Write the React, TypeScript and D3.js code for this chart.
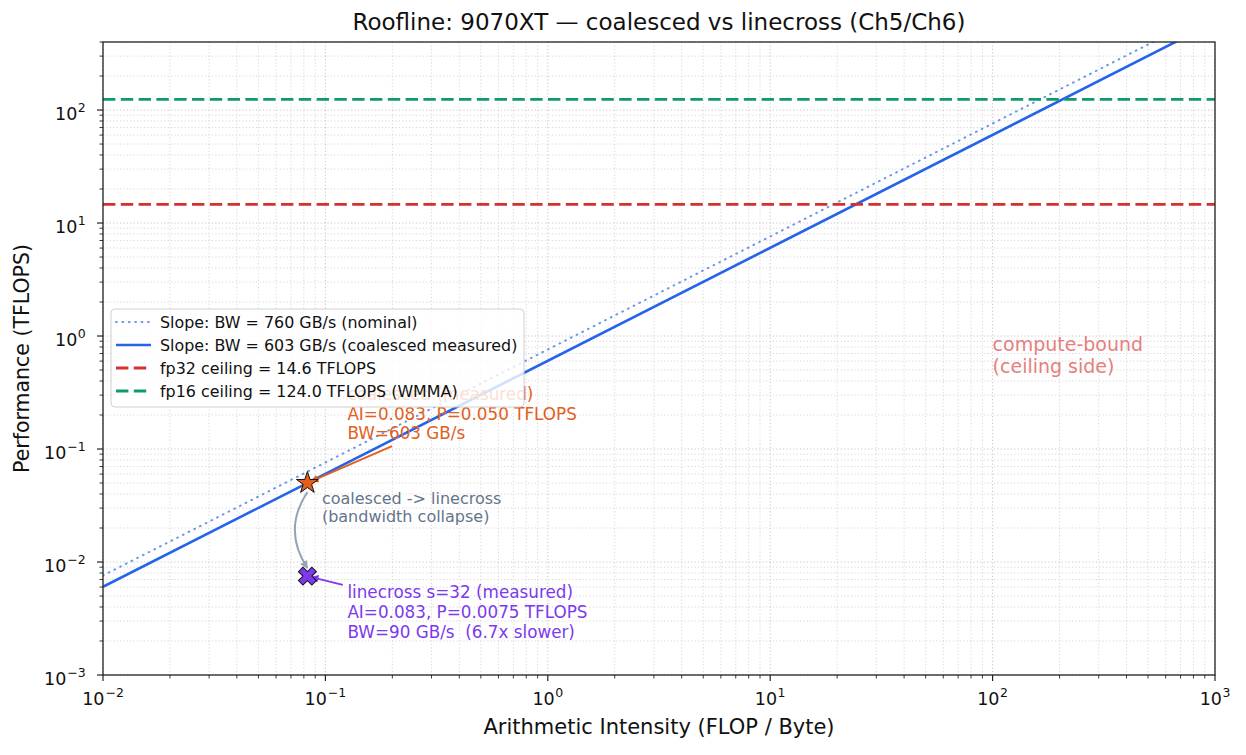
import { useEffect, useRef } from 'react'
import * as d3 from 'd3'

const W = 1246
const H = 755
const margin = { top: 42, right: 31, bottom: 80, left: 103 }

// axes
const aiDomain = [1e-2, 1e3]
const perfDomain = [1e-3, 400]
const xTickValues = [1e-2, 1e-1, 1e0, 1e1, 1e2, 1e3]
const yTickValues = [1e-3, 1e-2, 1e-1, 1e0, 1e1, 1e2]

// bandwidth roofs (GB/s)
const slopeLabels = ['Slope: BW = 760 GB/s (nominal)', 'Slope: BW = 603 GB/s (coalesced measured)']
const slopeBandwidth = [760, 603]

// compute ceilings (TFLOPS)
const ceilingLabels = ['fp32 ceiling = 14.6 TFLOPS', 'fp16 ceiling = 124.0 TFLOPS (WMMA)']
const ceilingTflops = [14.6, 124.0]

// measured kernels
const kernelAI = [0.083, 0.083]
const kernelPerf = [0.05, 0.0075]
const kernelText = [
  ['coalesced (measured)', 'AI=0.083, P=0.050 TFLOPS', 'BW=603 GB/s'],
  ['linecross s=32 (measured)', 'AI=0.083, P=0.0075 TFLOPS', 'BW=90 GB/s  (6.7x slower)'],
]
const transitionText = ['coalesced -> linecross', '(bandwidth collapse)']
const regionText = ['compute-bound', '(ceiling side)']

const BLUE = '#2563eb'
const BLUE_LIGHT = '#6b97e8'
const RED = '#d62f2f'
const GREEN = '#0f9a6c'
const ORANGE = '#e2601c'
const PURPLE = '#7c3aed'
const SLATE = '#64748b'
const FONT = 'DejaVu Sans, sans-serif'

export default function App() {
  const svgRef = useRef<SVGSVGElement>(null)

  useEffect(() => {
    const svg = d3.select(svgRef.current)
    svg.selectAll('*').remove()

    const innerW = W - margin.left - margin.right
    const innerH = H - margin.top - margin.bottom

    const x = d3.scaleLog().domain(aiDomain).range([0, innerW])
    const y = d3.scaleLog().domain(perfDomain).range([innerH, 0])

    svg.append('rect').attr('width', W).attr('height', H).attr('fill', '#fff')

    const defs = svg.append('defs')
    defs.append('clipPath').attr('id', 'plot-clip')
      .append('rect').attr('width', innerW).attr('height', innerH)

    const arrowHead = (id: string, color: string) => {
      defs.append('marker')
        .attr('id', id)
        .attr('viewBox', '0 0 10 10')
        .attr('refX', 9).attr('refY', 5)
        .attr('markerWidth', 8).attr('markerHeight', 8)
        .attr('markerUnits', 'userSpaceOnUse')
        .attr('orient', 'auto')
        .append('path')
        .attr('d', 'M0,0 L10,5 L0,10 z')
        .attr('fill', color)
    }
    arrowHead('head-orange', ORANGE)
    arrowHead('head-purple', PURPLE)
    arrowHead('head-gray', '#94a3b8')

    const g = svg.append('g').attr('transform', `translate(${margin.left},${margin.top})`)

    // grid, major + minor, dotted
    const minorX: number[] = []
    for (let e = -2; e < 3; e++) for (let k = 1; k < 10; k++) minorX.push(k * 10 ** e)
    minorX.push(1e3)
    const minorY: number[] = []
    for (let e = -3; e < 3; e++) for (let k = 1; k < 10; k++) if (k * 10 ** e <= perfDomain[1]) minorY.push(k * 10 ** e)

    const grid = g.append('g').attr('stroke', '#c4c4c4').attr('stroke-width', 1).attr('stroke-dasharray', '1.2,2.2')
    minorX.forEach(v => {
      grid.append('line').attr('x1', x(v)).attr('x2', x(v)).attr('y1', 0).attr('y2', innerH)
        .attr('opacity', xTickValues.includes(v) ? 0.95 : 0.65)
    })
    minorY.forEach(v => {
      grid.append('line').attr('x1', 0).attr('x2', innerW).attr('y1', y(v)).attr('y2', y(v))
        .attr('opacity', yTickValues.includes(v) ? 0.95 : 0.65)
    })

    const plot = g.append('g').attr('clip-path', 'url(#plot-clip)')

    // bandwidth slopes: P = AI * BW
    slopeBandwidth.forEach((bw, i) => {
      const line = d3.line<number>().x(d => x(d)).y(d => y(d * bw / 1000))
      plot.append('path')
        .attr('d', line(aiDomain))
        .attr('fill', 'none')
        .attr('stroke', i === 0 ? BLUE_LIGHT : BLUE)
        .attr('stroke-width', i === 0 ? 2 : 2.6)
        .attr('stroke-linecap', i === 0 ? 'round' : 'butt')
        .attr('stroke-dasharray', i === 0 ? '0.8,5.6' : null)
    })

    // flat ceilings
    ceilingTflops.forEach((tf, i) => {
      plot.append('line')
        .attr('x1', 0).attr('x2', innerW)
        .attr('y1', y(tf)).attr('y2', y(tf))
        .attr('stroke', i === 0 ? RED : GREEN)
        .attr('stroke-width', 2.8)
        .attr('stroke-dasharray', '12.4,5.4')
    })

    const px = kernelAI.map(d => x(d))
    const py = kernelPerf.map(d => y(d))

    // region label
    const region = g.append('text')
      .attr('font-family', FONT).attr('font-size', 19).attr('fill', '#e67e7e')
    regionText.forEach((t, i) => {
      region.append('tspan').attr('x', x(100)).attr('y', y(0.5) + 3 - (regionText.length - 1 - i) * 22.5).text(t)
    })

    // text blocks
    const block = (tx: number, ty: number, lines: string[], color: string, size: number, lh: number) => {
      const t = g.append('text').attr('font-family', FONT).attr('font-size', size).attr('fill', color)
        .style('white-space', 'pre')
      lines.forEach((s, i) => {
        t.append('tspan').attr('x', tx).attr('y', ty + i * lh).text(s)
      })
      return t
    }

    // arrow from the text box edge to a point
    const pointer = (box: { x0: number, y0: number, x1: number, y1: number }, tx: number, ty: number, color: string, head: string) => {
      const cx = (box.x0 + box.x1) / 2
      const cy = (box.y0 + box.y1) / 2
      const dx = tx - cx
      const dy = ty - cy
      let t = 1
      if (dx !== 0) t = Math.min(t, Math.abs(((dx < 0 ? box.x0 : box.x1) - cx) / dx))
      if (dy !== 0) t = Math.min(t, Math.abs(((dy < 0 ? box.y0 : box.y1) - cy) / dy))
      const sx = cx + dx * (t + 0.03)
      const sy = cy + dy * (t + 0.03)
      const len = Math.hypot(tx - sx, ty - sy)
      const ex = tx - (tx - sx) / len * 4
      const ey = ty - (ty - sy) / len * 4
      g.append('line')
        .attr('x1', sx).attr('y1', sy).attr('x2', ex).attr('y2', ey)
        .attr('stroke', color).attr('stroke-width', 1.8)
        .attr('marker-end', `url(#${head})`)
    }

    // coalesced annotation
    const oX = px[0] + 40
    const oY = py[0] - 83
    block(oX, oY, kernelText[0], ORANGE, 16.8, 19.5)
    pointer({ x0: oX, y0: oY - 13, x1: oX + 229, y1: oY + 44 }, px[0], py[0], ORANGE, 'head-orange')

    // linecross annotation
    const lX = px[1] + 40
    const lY = py[1] + 22
    block(lX, lY, kernelText[1], PURPLE, 16.8, 20)
    pointer({ x0: lX, y0: lY - 13, x1: lX + 229, y1: lY + 45 }, px[1], py[1], PURPLE, 'head-purple')

    // curved transition arrow
    const sx = px[0], sy = py[0] + 9
    const ex = px[1], ey = py[1] - 8
    const mx = (sx + ex) / 2 - 0.33 * (ey - sy)
    const my = (sy + ey) / 2
    g.append('path')
      .attr('d', `M${sx},${sy} Q${mx},${my} ${ex},${ey}`)
      .attr('fill', 'none').attr('stroke', '#94a3b8').attr('stroke-width', 2)
      .attr('marker-end', 'url(#head-gray)')
    block(px[0] + 14.5, py[0] + 21, transitionText, SLATE, 16, 18)

    // markers
    const star = d3.symbol().type(d3.symbolStar).size(150)
    g.append('path')
      .attr('transform', `translate(${px[0]},${py[0]})`)
      .attr('d', star())
      .attr('fill', ORANGE).attr('stroke', '#111').attr('stroke-width', 1)
    const cross = d3.symbol().type(d3.symbolCross).size(200)
    g.append('path')
      .attr('transform', `translate(${px[1]},${py[1]}) rotate(45)`)
      .attr('d', cross())
      .attr('fill', PURPLE).attr('stroke', '#111').attr('stroke-width', 1)

    // frame
    g.append('rect').attr('width', innerW).attr('height', innerH)
      .attr('fill', 'none').attr('stroke', '#222').attr('stroke-width', 1.3)

    // ticks
    const axisX = g.append('g').attr('transform', `translate(0,${innerH})`)
    minorX.forEach(v => {
      const major = xTickValues.includes(v)
      axisX.append('line').attr('x1', x(v)).attr('x2', x(v)).attr('y1', 0).attr('y2', major ? 6 : 3.5)
        .attr('stroke', '#222').attr('stroke-width', major ? 1.2 : 0.9)
    })
    const axisY = g.append('g')
    minorY.forEach(v => {
      const major = yTickValues.includes(v)
      axisY.append('line').attr('x1', 0).attr('x2', major ? -6 : -3.5).attr('y1', y(v)).attr('y2', y(v))
        .attr('stroke', '#222').attr('stroke-width', major ? 1.2 : 0.9)
    })

    const exponent = (v: number) => Math.round(Math.log10(v))
    const tickLabel = (parent: d3.Selection<SVGGElement, unknown, null, undefined>, v: number) => {
      const e = exponent(v)
      const t = parent.append('text').attr('font-family', FONT).attr('font-size', 17.5).attr('fill', '#111')
      t.append('tspan').text('10')
      t.append('tspan').attr('font-size', 12.5).attr('dy', -8).attr('dx', e < 0 ? 1 : 0.5)
        .style('white-space', 'pre')
        .text(e < 0 ? `\u2212${-e}` : `${e}`)
      return t
    }
    xTickValues.forEach(v => {
      tickLabel(axisX, v).attr('x', x(v)).attr('y', 30).attr('text-anchor', 'middle')
    })
    yTickValues.forEach(v => {
      const e = exponent(v)
      tickLabel(axisY, v).attr('x', e < 0 ? -59 : -48).attr('y', y(v) + 10).attr('text-anchor', 'start')
    })

    g.append('text').attr('font-family', FONT).attr('font-size', 21).attr('fill', '#111')
      .attr('x', innerW / 2).attr('y', innerH + 59).attr('text-anchor', 'middle')
      .text('Arithmetic Intensity (FLOP / Byte)')
    g.append('text').attr('font-family', FONT).attr('font-size', 20.5).attr('fill', '#111')
      .attr('transform', `translate(-74,${innerH / 2}) rotate(-90)`).attr('text-anchor', 'middle')
      .text('Performance (TFLOPS)')
    svg.append('text').attr('font-family', FONT).attr('font-size', 23).attr('fill', '#111')
      .attr('x', margin.left + innerW / 2).attr('y', 30).attr('text-anchor', 'middle')
      .text('Roofline: 9070XT \u2014 coalesced vs linecross (Ch5/Ch6)')

    // legend
    const leg = g.append('g').attr('transform', 'translate(8,267)')
    leg.append('rect').attr('width', 413).attr('height', 98).attr('rx', 4)
      .attr('fill', '#fff').attr('fill-opacity', 0.8).attr('stroke', '#d0d0d0')
    const entries = [
      { label: slopeLabels[0], color: BLUE_LIGHT, dash: '0.8,5.6', w: 2, cap: 'round' },
      { label: slopeLabels[1], color: BLUE, dash: null, w: 2.6, cap: 'butt' },
      { label: ceilingLabels[0], color: RED, dash: '12.4,5.4', w: 2.8, cap: 'butt' },
      { label: ceilingLabels[1], color: GREEN, dash: '12.4,5.4', w: 2.8, cap: 'butt' },
    ]
    entries.forEach((e, i) => {
      const ry = 13 + i * 23
      leg.append('line').attr('x1', 5).attr('x2', 40).attr('y1', ry).attr('y2', ry)
        .attr('stroke', e.color).attr('stroke-width', e.w).attr('stroke-dasharray', e.dash)
        .attr('stroke-linecap', e.cap)
      leg.append('text').attr('font-family', FONT).attr('font-size', 15.9).attr('fill', '#111')
        .attr('x', 49).attr('y', ry + 6).text(e.label)
    })
  }, [])

  return (
    <div style={{ position: 'absolute', left: 0, top: 0 }}>
      <svg ref={svgRef} width={W} height={H} style={{ display: 'block' }} />
    </div>
  )
}
